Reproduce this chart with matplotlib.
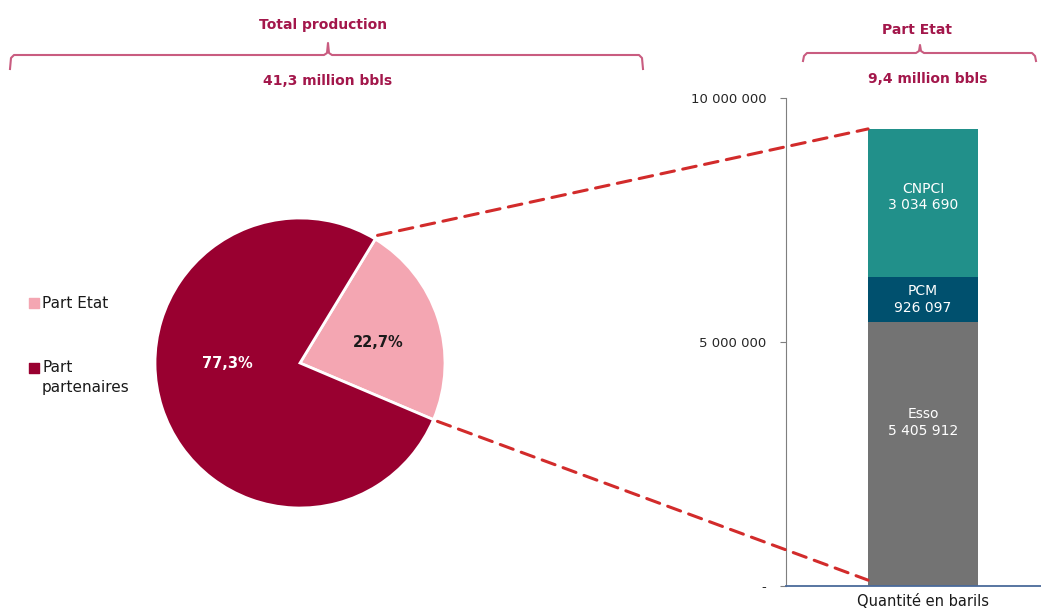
import matplotlib
matplotlib.use('Agg')
from matplotlib import pyplot as plt
from matplotlib.patches import ConnectionPatch
import numpy as np

# pie: share of total production
pie_labels = ['Part Etat', 'Part partenaires']
pie_values = [22.7, 77.3]
pie_pct = ['22,7%', '77,3%']

# stacked bar: state share split by operator
bar_names = ['Esso', 'PCM', 'CNPCI']
bar_values = [5405912, 926097, 3034690]
label_frac = [0.62, 0.5, 0.54]   # where the label sits inside each segment

y_ticks = [0, 5000000, 10000000]
y_ticklabels = ['-', '5 000 000', '10 000 000']

c_etat = '#f4a6b2'
c_part = '#990030'
bar_colors = ['#737373', '#00506e', '#21908a']
c_title = '#a3174b'
c_brace = '#c95c80'
c_dash = '#d22b2b'

W, H = 1041, 614
fig = plt.figure(figsize=(W / 100, H / 100), dpi=100)

# overlay in pixel coords for braces, titles, legend
ax0 = fig.add_axes([0, 0, 1, 1], zorder=0)
ax0.set_xlim(0, W)
ax0.set_ylim(H, 0)
ax0.axis('off')

def brace(x0, x1, xm, y, hook, notch):
    xs = [x0, x0 + 1, x0 + 4, xm - 4, xm - 1, xm, xm + 1, xm + 4, x1 - 4, x1 - 1, x1]
    ys = [y + hook, y + 3, y, y, y - 2, y - notch, y - 2, y, y, y + 3, y + hook]
    ax0.plot(xs, ys, color=c_brace, lw=1.5, solid_joinstyle='round')

brace(10, 643, 328, 55, 14, 12)
brace(803, 1036, 920, 53, 8, 8)
ax0.text(323, 25, 'Total production', color=c_title, fontsize=10, fontweight='bold',
         ha='center', va='center')
ax0.text(328, 81, '41,3 million bbls', color=c_title, fontsize=10, fontweight='bold',
         ha='center', va='center')
ax0.text(917, 30, 'Part Etat', color=c_title, fontsize=10, fontweight='bold',
         ha='center', va='center')
ax0.text(928, 79, '9,4 million bbls', color=c_title, fontsize=10, fontweight='bold',
         ha='center', va='center')

# legend drawn by hand
ax0.scatter([34, 34], [303, 368], marker='s', s=45, c=[c_etat, c_part])
ax0.text(42, 303, pie_labels[0], fontsize=11, color='#1a1a1a', va='center')
ax0.text(42, 360, 'Part\npartenaires', fontsize=11, color='#1a1a1a', va='top',
         linespacing=1.4)

# pie
cx, cy, r = 300, 363, 145
ax_pie = fig.add_axes([(cx - r) / W, (H - cy - r) / H, 2 * r / W, 2 * r / H], zorder=1)
wedges, _ = ax_pie.pie(pie_values, colors=[c_etat, c_part], startangle=-23,
                       counterclock=True,
                       wedgeprops=dict(edgecolor='white', linewidth=2))
ax_pie.set_xlim(-1, 1)
ax_pie.set_ylim(-1, 1)
ax_pie.set_aspect('equal')
ax_pie.text(0.54, 0.14, pie_pct[0], fontsize=10.5, fontweight='bold', color='#1a1a1a',
            ha='center', va='center')
ax_pie.text(-0.5, 0.0, pie_pct[1], fontsize=10.5, fontweight='bold', color='white',
            ha='center', va='center')

# stacked bar
ax_bar = fig.add_axes([786 / W, (H - 586) / H, (W - 786) / W, 488 / H], zorder=1)
ax_bar.patch.set_alpha(0)
bw = 0.5
bottom = 0
for name, val, col, fr in zip(bar_names, bar_values, bar_colors, label_frac):
    ax_bar.bar(0, val, bw, bottom=bottom, color=col, zorder=2)
    txt = name + '\n' + f'{val:,}'.replace(',', ' ')
    ax_bar.text(0, bottom + val * fr, txt, color='white', fontsize=10,
                ha='center', va='center', linespacing=1.25, zorder=3)
    bottom += val
total = bottom

ax_bar.set_xlim(-0.623, 0.536)
ax_bar.set_ylim(0, 10000000)
ax_bar.set_yticks(y_ticks)
ax_bar.set_yticklabels(y_ticklabels, fontsize=9.5, color='#262626')
ax_bar.set_xticks([0])
ax_bar.set_xticklabels(['Quantité en barils'], fontsize=10.5, color='#1a1a1a')
ax_bar.tick_params(axis='x', length=0, pad=6)
ax_bar.tick_params(axis='y', length=4, color='#7f7f7f', pad=10)
for s in ['top', 'right']:
    ax_bar.spines[s].set_visible(False)
ax_bar.spines['left'].set_color('#7f7f7f')
ax_bar.spines['bottom'].set_color('#4a6a9a')
ax_bar.spines['bottom'].set_linewidth(1.3)

# dashed connectors from the Etat wedge to the bar
w = wedges[0]
t1, t2 = np.radians(w.theta1), np.radians(w.theta2)
pA_top = (1.03 * w.r * np.cos(t2), 1.03 * w.r * np.sin(t2))
pA_bot = (1.03 * w.r * np.cos(t1), 1.03 * w.r * np.sin(t1))
for pa, pb in [(pA_top, (-bw / 2, total)), (pA_bot, (-bw / 2, 120000))]:
    con = ConnectionPatch(xyA=pa, coordsA=ax_pie.transData, xyB=pb, coordsB=ax_bar.transData,
                          color=c_dash, lw=2.2, linestyle=(0, (4.5, 2.8)))
    con.set_zorder(1.5)
    fig.add_artist(con)

fig.savefig('out.png', dpi=100)
